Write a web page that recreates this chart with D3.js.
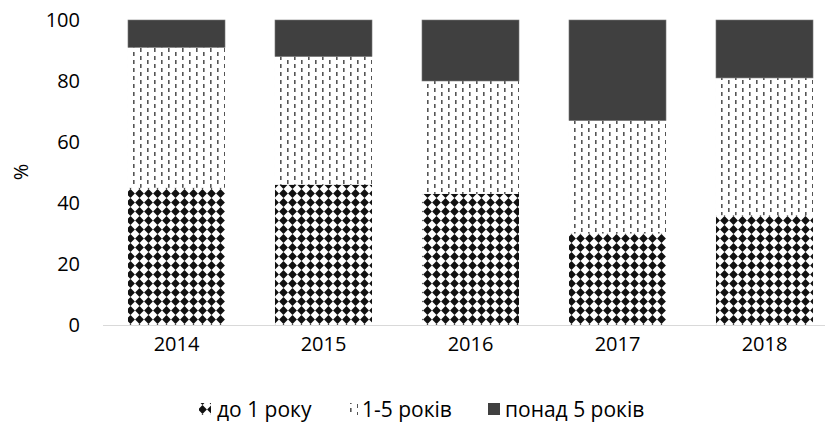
<!DOCTYPE html>
<html><head><meta charset="utf-8">
<script src="https://cdn.jsdelivr.net/npm/d3@7"></script>
<style>body{margin:0;background:#fff}svg{display:block}text{font-family:"Open Sans",sans-serif;fill:#000}</style>
</head><body>
<script>
const years = ["2014","2015","2016","2017","2018"];
const upTo1 = [45, 46, 43, 30, 36];
const from1to5 = [46, 42, 37, 37, 45];
const over5 = [9, 12, 20, 33, 19];
const seriesNames = ["до 1 року", "1-5 років", "понад 5 років"];
const yTicks = [0, 20, 40, 60, 80, 100];

const W = 825, H = 423;
const svg = d3.select("body").append("svg").attr("width", W).attr("height", H);
const defs = svg.append("defs");

// diamond pattern
const pd = defs.append("pattern").attr("id","pDiamond").attr("patternUnits","userSpaceOnUse")
  .attr("width",9).attr("height",9);
pd.append("rect").attr("width",9).attr("height",9).attr("fill","#fff");
pd.append("path").attr("d","M4.5,0.1 L8.9,4.5 L4.5,8.9 L0.1,4.5 Z").attr("fill","#111");
// dashed vertical pattern
const pv = defs.append("pattern").attr("id","pDash").attr("patternUnits","userSpaceOnUse")
  .attr("width",14).attr("height",8);
pv.append("rect").attr("width",14).attr("height",8).attr("fill","#fff");
pv.append("rect").attr("x",0).attr("y",0).attr("width",1.6).attr("height",4).attr("fill","#555");
pv.append("rect").attr("x",7).attr("y",4).attr("width",1.6).attr("height",4).attr("fill","#555");

const fills = ["url(#pDiamond)", "url(#pDash)", "#404040"];

const x = d3.scaleBand().domain(years).range([103, 838]).paddingInner(0.34).paddingOuter(0.17);
const y = d3.scaleLinear().domain([0, 100]).range([325, 20]);

const data = years.map((yr, i) => ({year: yr, s0: upTo1[i], s1: from1to5[i], s2: over5[i]}));
const stacked = d3.stack().keys(["s0","s1","s2"])(data);

const g = svg.append("g");
stacked.forEach((layer, li) => {
  g.selectAll(null).data(layer).join("rect")
    .attr("x", d => x(d.data.year))
    .attr("width", x.bandwidth())
    .attr("y", d => y(d[1]))
    .attr("height", d => y(d[0]) - y(d[1]))
    .attr("fill", fills[li])
    .attr("stroke", li === 2 ? "#7a7a7a" : "none")
    .attr("stroke-width", li === 2 ? 0.6 : 0);
});

// x axis line
svg.append("line").attr("x1",103).attr("x2",838).attr("y1",325.5).attr("y2",325.5)
  .attr("stroke","#d9d9d9").attr("stroke-width",1.2);

// x labels
const xAxis = svg.append("g").attr("transform","translate(0,325)")
  .call(d3.axisBottom(x).tickSize(0).tickPadding(12));
xAxis.select(".domain").remove();
xAxis.selectAll("text").style("font-size","20px").style("font-family","'Open Sans',sans-serif").attr("fill","#000");

// y labels
const yAxis = svg.append("g").attr("transform","translate(90,0)")
  .call(d3.axisLeft(y).tickValues(yTicks).tickSize(0).tickPadding(10));
yAxis.select(".domain").remove();
yAxis.selectAll("text").style("font-size","20px").style("font-family","'Open Sans',sans-serif").attr("fill","#000");

svg.append("text").attr("transform","translate(28,172) rotate(-90)")
  .attr("text-anchor","middle").style("font-size","20px").text("%");

// legend
const legendItems = [
  {x: 199, tx: 217},
  {x: 346, tx: 362},
  {x: 488, tx: 505}
];
const lg = svg.append("g");
seriesNames.forEach((name, i) => {
  const it = legendItems[i];
  lg.append("rect").attr("x", it.x).attr("y", 403).attr("width", 12).attr("height", 12)
    .attr("fill", fills[i]);
  lg.append("text").attr("x", it.tx).attr("y", 417).style("font-size","21px").text(name);
});
</script>
</body></html>
